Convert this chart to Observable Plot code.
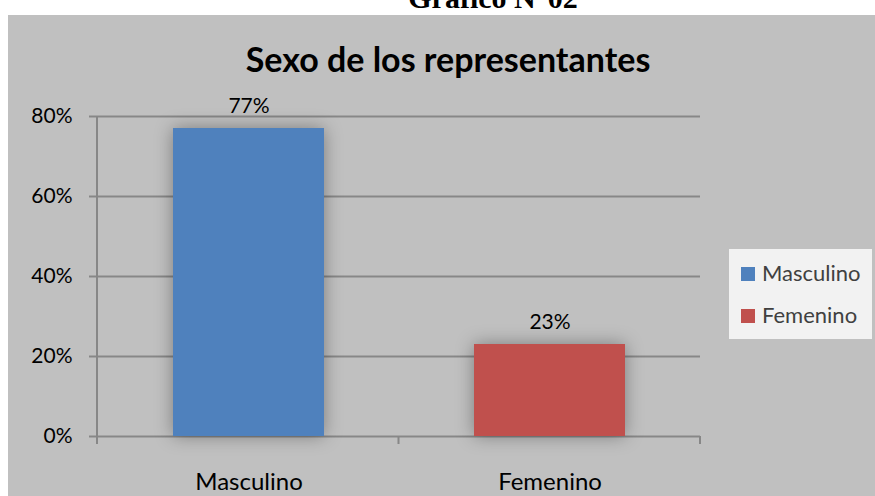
<!DOCTYPE html>
<html>
<head>
<meta charset="utf-8">
<script src="https://cdn.jsdelivr.net/npm/d3@7"></script>
<script src="https://cdn.jsdelivr.net/npm/@observablehq/plot@0.6"></script>
<style>
  html, body { margin: 0; padding: 0; background: #fff; }
  body { width: 875px; height: 496px; overflow: hidden; position: relative; font-family: Lato, sans-serif; }
  #hdr { position: absolute; left: 293px; width: 400px; text-align: center; top: -17px; font-family: "Liberation Serif", "Times New Roman", serif; font-weight: bold; font-size: 30px; color: #000; line-height: 30px; white-space: nowrap; }
  #panel { position: absolute; left: 8px; top: 15px; width: 867px; height: 481px; background: #c0c0c0; overflow: hidden; }
  #title { position: absolute; left: 0; width: 880px; text-align: center; top: 24px; font-family: Lato, sans-serif; font-weight: bold; font-size: 34px; line-height: 40px; color: #000; }
  #legend { position: absolute; left: 721px; top: 234px; width: 143px; height: 90px; background: #f2f2f2; }
  .li { position: absolute; left: 12px; font-family: Lato, sans-serif; font-size: 22px; color: #404040; line-height: 22px; white-space: nowrap; }
  .sw { display: inline-block; width: 14px; height: 14px; margin-right: 7px; vertical-align: 0px; }
</style>
</head>
<body>
<div id="hdr">Gráfico N°02</div>
<div id="panel">
  <div id="title">Sexo de los representantes</div>
  <div id="chart"></div>
  <div id="legend"></div>
</div>
<script>
const categories = ["Masculino", "Femenino"];
const values = [0.77, 0.23];
const colors = ["#4F81BD", "#C0504D"];
const yTicks = [0, 0.2, 0.4, 0.6, 0.8];
const yTickLabels = ["0%", "20%", "40%", "60%", "80%"];

const data = categories.map((c, i) => ({cat: c, val: values[i]}));

const axisLines = (index, scales, values, dims) => {
  const g = d3.create("svg:g");
  const left = dims.marginLeft, right = dims.width - dims.marginRight;
  const bottom = dims.height - dims.marginBottom, top = dims.marginTop;
  const n = categories.length;
  g.append("line").attr("x1", left).attr("x2", left).attr("y1", top).attr("y2", bottom + 8)
    .attr("stroke", "#878787").attr("stroke-width", 2);
  for (let i = 0; i <= n; i++) {
    const x = left + (right - left) * i / n;
    g.append("line").attr("x1", x).attr("x2", x).attr("y1", bottom).attr("y2", bottom + 8)
      .attr("stroke", "#878787").attr("stroke-width", 2);
  }
  return g.node();
};

const chart = Plot.plot({
  width: 867,
  height: 481,
  marginLeft: 89,
  marginRight: 175,
  marginTop: 101,
  marginBottom: 60,
  style: {background: "transparent", fontFamily: "Lato, sans-serif", fontSize: "21px", color: "#000", overflow: "visible"},
  x: {domain: categories, paddingInner: 0.5, paddingOuter: 0.25, label: null},
  y: {domain: [0, 0.8], label: null},
  color: {domain: categories, range: colors},
  marks: [
    Plot.ruleY(yTicks, {y: d => d, stroke: "#878787", strokeWidth: 2, insetLeft: -8}),
    axisLines,
    Plot.barY(data, {x: "cat", y: "val", fill: "cat"}),
    Plot.text(data, {x: "cat", y: "val", text: d => Math.round(d.val * 100) + "%", lineAnchor: "bottom", dy: -16, fill: "#000", fontSize: 21}),
    Plot.axisY(yTicks, {tickSize: 0, tickPadding: 25, tickFormat: d => yTickLabels[yTicks.indexOf(d)], fontSize: 21, fill: "#000", label: null}),
    Plot.axisX({tickSize: 0, tickPadding: 36, fontSize: 24, fill: "#000", label: null})
  ]
});

d3.select(chart).selectAll('g[aria-label="bar"]').style("filter", "drop-shadow(0px 0px 9px rgba(0,0,0,0.35))");
document.getElementById("chart").appendChild(chart);

const legend = d3.select("#legend");
categories.forEach((c, i) => {
  const item = legend.append("div").attr("class", "li").style("top", (13 + i * 42) + "px");
  item.append("span").attr("class", "sw").style("background", colors[i]);
  item.append("span").text(c);
});
</script>
</body>
</html>
